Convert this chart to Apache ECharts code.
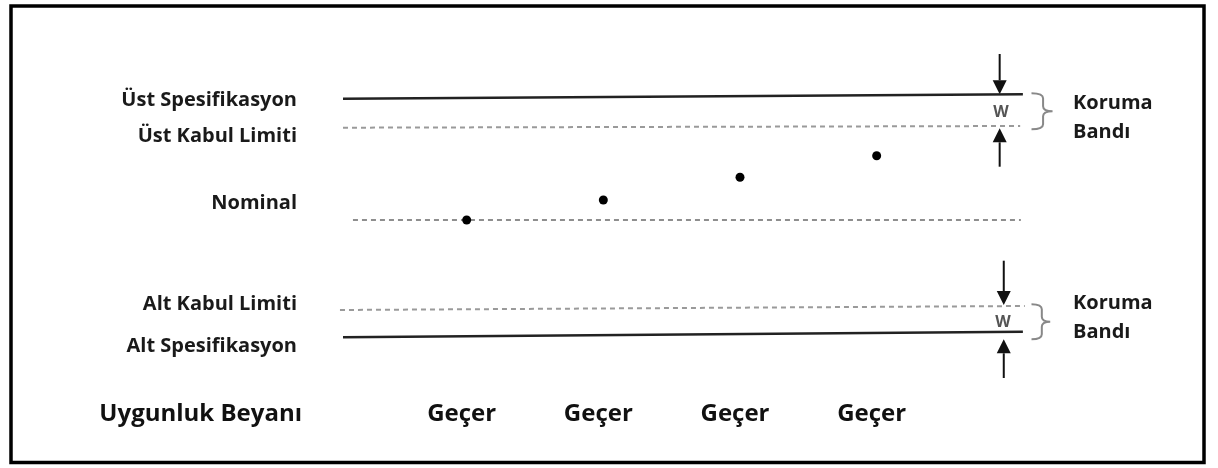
<!DOCTYPE html>
<html>
<head>
<meta charset="utf-8">
<script src="https://cdn.jsdelivr.net/npm/echarts@6/dist/echarts.min.js"></script>
<style>
html,body{margin:0;padding:0;background:#fff;}
#c{width:1218px;height:468px;}
</style>
</head>
<body>
<div id="c"></div>
<script>
// ---- data ----
const limitNames = ['Üst Spesifikasyon', 'Üst Kabul Limiti', 'Nominal', 'Alt Kabul Limiti', 'Alt Spesifikasyon'];
const uslLine = [[0.095, 12.13], [5.07, 12.57]];
const ualLine = [[0.095, 9.23], [5.05, 9.40]];
const nominalLine = [[0.168, 0.0], [5.055, 0.0]];
const lalLine = [[0.073, -9.0], [5.084, -8.6]];
const lslLine = [[0.095, -11.73], [5.07, -11.17]];
const measX = [1, 2, 3, 4];
const measY = [0.0, 2.0, 4.27, 6.43];
const verdicts = ['Geçer', 'Geçer', 'Geçer', 'Geçer'];
const verdictTitle = 'Uygunluk Beyanı';
const guardText = ['Koruma', 'Bandı'];
const guardWidthLabel = 'W';
// arrows: [x, from, tip]
const arrows = [[4.90, 16.6, 12.57], [4.90, 5.33, 9.17], [4.93, -4.07, -8.5], [4.93, -15.8, -11.93]];
// braces: [xLeft, yTop, yBottom, xTip]
const braces = [[5.133, 12.67, 9.07, 5.287], [5.133, -8.43, -11.93, 5.27]];

const FONT = '"Open Sans", "Noto Sans", sans-serif';
const chart = echarts.init(document.getElementById('c'), null, {renderer: 'canvas'});

const leftLabelY = [100.7, 136.5, 203.7, 304.7, 346];

const graphics = [];
limitNames.forEach((t, i) => {
  graphics.push({type: 'text', x: 297, y: leftLabelY[i], z: 10,
    style: {text: t, fill: '#1a1a1a', font: 'bold 20px ' + FONT, align: 'right', verticalAlign: 'middle'}});
});
graphics.push({type: 'text', x: 302, y: 414.5, z: 10,
  style: {text: verdictTitle, fill: '#111', font: 'bold 24px ' + FONT, align: 'right', verticalAlign: 'middle'}});
[[103, 132], [303, 332]].forEach(pair => {
  pair.forEach((yy, j) => {
    graphics.push({type: 'text', x: 1073, y: yy, z: 10,
      style: {text: guardText[j], fill: '#1a1a1a', font: 'bold 20px ' + FONT, align: 'left', verticalAlign: 'middle'}});
  });
});
[[1001, 112.5], [1003, 322]].forEach(p => {
  graphics.push({type: 'text', x: p[0], y: p[1], z: 10,
    style: {text: guardWidthLabel, fill: '#555', font: 'bold 16px ' + FONT, align: 'center', verticalAlign: 'middle'}});
});
graphics.push({type: 'rect', z: 20, shape: {x: 11, y: 6, width: 1193, height: 456.5},
  style: {fill: 'none', stroke: '#000', lineWidth: 3.5}});

function limitSeries(name, data, color, width, dashed) {
  return {type: 'line', name: name, data: data, symbol: 'none', silent: true, clip: false,
    lineStyle: {color: color, width: width, type: dashed ? [5, 4] : 'solid'}};
}

chart.setOption({
  animation: false,
  backgroundColor: '#fff',
  grid: {left: 330, right: 68, top: 0, bottom: 0},
  xAxis: {type: 'value', min: 0, max: 6, show: false},
  yAxis: {type: 'value', min: -24.8, max: 22, show: false},
  graphic: graphics,
  series: [
    limitSeries(limitNames[0], uslLine, '#222', 2.5, false),
    limitSeries(limitNames[1], ualLine, '#9a9a9a', 2, true),
    limitSeries(limitNames[2], nominalLine, '#8e8e8e', 2, true),
    limitSeries(limitNames[3], lalLine, '#9a9a9a', 2, true),
    limitSeries(limitNames[4], lslLine, '#222', 2.5, false),
    {type: 'scatter', name: 'Ölçüm', data: measX.map((x, i) => [x, measY[i]]),
      symbol: 'circle', symbolSize: 9, itemStyle: {color: '#000', opacity: 1}, z: 5},
    {type: 'scatter', name: 'Beyan', data: measX.map((x, i) => [x, -19.45, verdicts[i]]),
      symbolSize: 0, clip: false, itemStyle: {opacity: 1},
      label: {show: true, position: 'inside', offset: [-5, 0], formatter: p => p.data[2],
        color: '#111', fontFamily: FONT, fontWeight: 'bold', fontSize: 24}},
    {type: 'custom', name: 'arrows', data: arrows, clip: false,
      renderItem: function (params, api) {
        const p0 = api.coord([api.value(0), api.value(1)]);
        const p1 = api.coord([api.value(0), api.value(2)]);
        const dir = p1[1] > p0[1] ? 1 : -1;
        const hl = 14, hw = 7;
        return {type: 'group', children: [
          {type: 'line', shape: {x1: p0[0], y1: p0[1], x2: p1[0], y2: p1[1] - dir * hl},
            style: {stroke: '#111', lineWidth: 2}},
          {type: 'polygon', shape: {points: [[p1[0] - hw, p1[1] - dir * hl], [p1[0] + hw, p1[1] - dir * hl], [p1[0], p1[1]]]},
            style: {fill: '#111'}}
        ]};
      }},
    {type: 'custom', name: 'braces', data: braces, clip: false,
      renderItem: function (params, api) {
        const a = api.coord([api.value(0), api.value(1)]);
        const b = api.coord([api.value(0), api.value(2)]);
        const t = api.coord([api.value(3), api.value(1)]);
        const xl = a[0], yt = a[1], yb = b[1], xt = t[0];
        const xv = xl + (xt - xl) * 0.55;
        const ym = (yt + yb) / 2, r = 5;
        const d = 'M' + xl + ' ' + yt + ' Q' + xv + ' ' + yt + ' ' + xv + ' ' + (yt + r) +
          ' L' + xv + ' ' + (ym - r) + ' Q' + xv + ' ' + ym + ' ' + xt + ' ' + ym +
          ' Q' + xv + ' ' + ym + ' ' + xv + ' ' + (ym + r) +
          ' L' + xv + ' ' + (yb - r) + ' Q' + xv + ' ' + yb + ' ' + xl + ' ' + yb;
        return {type: 'path', shape: {pathData: d}, style: {fill: 'none', stroke: '#888', lineWidth: 2}};
      }}
  ]
});
</script>
</body>
</html>
